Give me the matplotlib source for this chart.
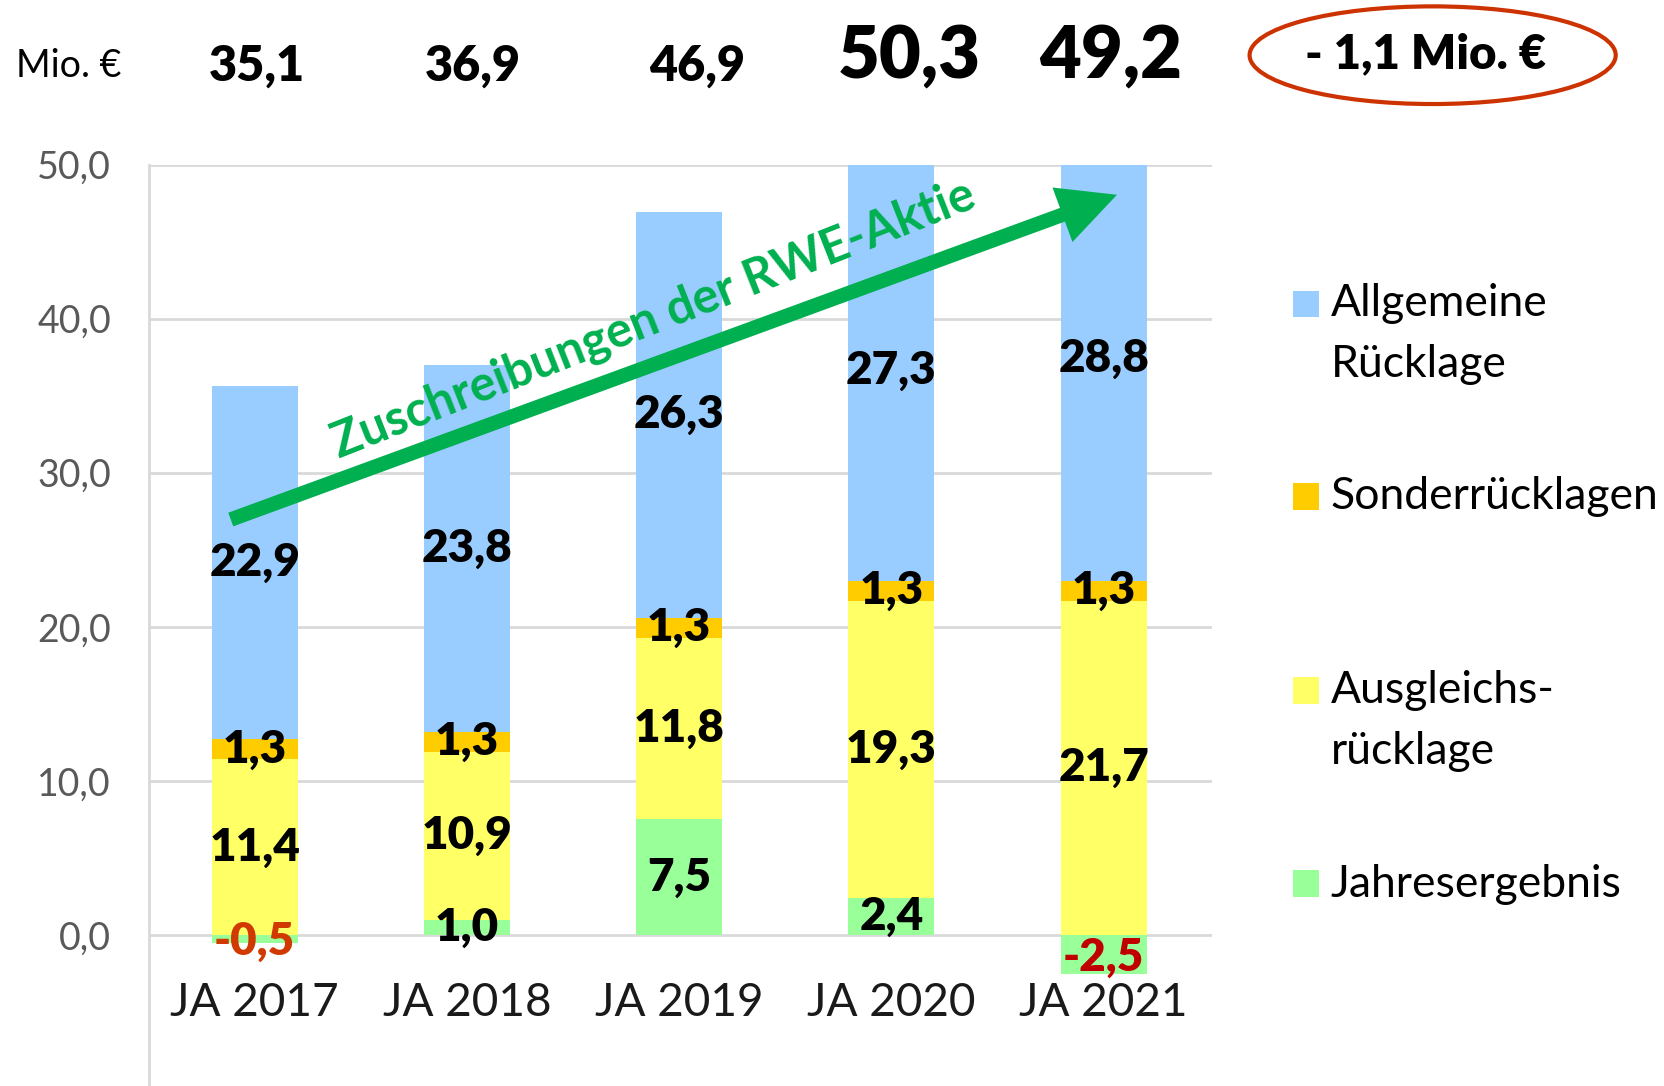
import matplotlib.pyplot as plt
from matplotlib.patches import Ellipse, Rectangle, FancyArrowPatch

plt.rcParams['font.family'] = ['Lato', 'DejaVu Sans']

years = ["JA 2017", "JA 2018", "JA 2019", "JA 2020", "JA 2021"]
jahresergebnis = [-0.5, 1.0, 7.5, 2.4, -2.5]
ausgleich = [11.4, 10.9, 11.8, 19.3, 21.7]
sonder = [1.3, 1.3, 1.3, 1.3, 1.3]
allgemein = [22.9, 23.8, 26.3, 27.3, 28.8]
totals = ["35,1", "36,9", "46,9", "50,3", "49,2"]
total_big = [False, False, False, True, True]
change_label = "- 1,1 Mio. €"
arrow_label = "Zuschreibungen der RWE-Aktie"

c_allg = "#99CCFF"
c_sond = "#FFCC00"
c_ausg = "#FFFF66"
c_jahr = "#99FF99"
grid_c = "#D9D9D9"

W, H = 1568, 1023  # layout measured on reference
total_px = [242, 446, 657, 857, 1047]


def fx(x):
    return x / W


def fy(y):
    return 1 - y / H


def fmt(v):
    return f"{v:.1f}".replace(".", ",")


fig = plt.figure(figsize=(16.64, 10.86), dpi=100)
ax = fig.add_axes([fx(140), 0, fx(1142) - fx(140), fy(155)])

x = list(range(len(years)))
width = 0.405
b_ausg = [max(j, 0) for j in jahresergebnis]
b_sond = [b + a for b, a in zip(b_ausg, ausgleich)]
b_allg = [b + s for b, s in zip(b_sond, sonder)]

ax.bar(x, jahresergebnis, width, color=c_jahr, zorder=2)
ax.bar(x, ausgleich, width, bottom=b_ausg, color=c_ausg, zorder=2)
ax.bar(x, sonder, width, bottom=b_sond, color=c_sond, zorder=2)
ax.bar(x, allgemein, width, bottom=b_allg, color=c_allg, zorder=2)

lab_kw = dict(ha="center", va="center", fontsize=33, fontweight="heavy", zorder=4)
red = ["#D03A00", "#C00000"]
for i in x:
    j = jahresergebnis[i]
    if j < 0:
        col = red[0] if i == 0 else red[1]
        ax.text(i, j / 2 - 0.2, fmt(j), color=col, **lab_kw)
    else:
        ax.text(i, j / 2, fmt(j), color="black", **lab_kw)
    ax.text(i, b_ausg[i] + ausgleich[i] / 2, fmt(ausgleich[i]), **lab_kw)
    ax.text(i, b_sond[i] + sonder[i] / 2, fmt(sonder[i]), **lab_kw)
    ax.text(i, b_allg[i] + allgemein[i] / 2, fmt(allgemein[i]), **lab_kw)
    ax.text(i, -4.4, years[i], ha="center", va="center", fontsize=33, color="#1a1a1a")

ax.set_xlim(-0.5, 4.51)
ax.set_ylim(-9.8, 50)
ax.set_yticks([0, 10, 20, 30, 40, 50])
ax.set_yticklabels([fmt(v) for v in [0, 10, 20, 30, 40, 50]], fontsize=27, color="#595959")
ax.tick_params(axis="y", length=0, pad=27)
ax.set_xticks([])
for v in [0, 10, 20, 30, 40, 50]:
    ax.axhline(v, color=grid_c, lw=2, zorder=1)
for s in ["top", "right", "bottom"]:
    ax.spines[s].set_visible(False)
ax.spines["left"].set_color(grid_c)
ax.spines["left"].set_linewidth(2)

# green arrow with label
arr = FancyArrowPatch((-0.125, 26.9), (4.075, 48.1),
                      arrowstyle="simple,head_length=2.2,head_width=2.2,tail_width=0.55",
                      mutation_scale=19, color="#00B050", lw=0, zorder=5, clip_on=False)
ax.add_patch(arr)
ax.text(1.88, 40.0, arrow_label, rotation=21.5, rotation_mode="anchor",
        ha="center", va="center", fontsize=35, fontweight="bold", color="#00B050", zorder=6)

# totals row
fig.text(fx(65), fy(62), "Mio. €", ha="center", va="center", fontsize=27)
for i, t in enumerate(totals):
    cx = fx(total_px[i])
    if total_big[i]:
        fig.text(cx, fy(53), t, ha="center", va="center", fontsize=52, fontweight="heavy")
    else:
        fig.text(cx, fy(62), t, ha="center", va="center", fontsize=35, fontweight="heavy")
fig.text(fx(1343), fy(51), change_label, ha="center", va="center", fontsize=34, fontweight="heavy")
fig.add_artist(Ellipse((fx(1350), fy(52)), fx(345), 92 / H, transform=fig.transFigure,
                       fill=False, edgecolor="#CC3300", lw=3))

# legend
legend_items = [(c_allg, "Allgemeine\nRücklage", 287, 315),
                (c_sond, "Sonderrücklagen", 468, 468),
                (c_ausg, "Ausgleichs-\nrücklage", 651, 679),
                (c_jahr, "Jahresergebnis", 833, 833)]
for col, txt, ysq, ytxt in legend_items:
    fig.add_artist(Rectangle((fx(1218), fy(ysq + 12)), fx(25), 25 / H,
                             transform=fig.transFigure, color=col, lw=0))
    fig.text(fx(1254), fy(ytxt), txt, ha="left", va="center", fontsize=32,
             linespacing=1.6)

fig.savefig("out.png", dpi=100)
